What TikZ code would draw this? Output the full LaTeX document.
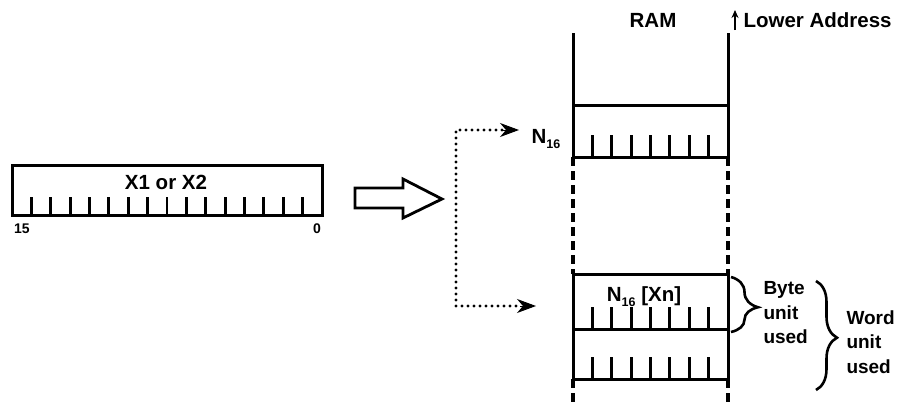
\documentclass[tikz,border=0pt]{standalone}
\usepackage{fontspec}
\setmainfont{Liberation Sans}
\usetikzlibrary{arrows.meta,decorations.pathreplacing,calc}
\newcommand\lowsub[1]{\raisebox{-0.45ex}{\fontsize{12.5}{12}\selectfont #1}}
\begin{document}
\begin{tikzpicture}[x=1pt,y=-1pt,line width=3pt,
  lbl/.style={font=\fontsize{20.5}{22}\selectfont\bfseries, inner sep=0pt},
  sidelbl/.style={font=\fontsize{19}{24.5}\selectfont\bfseries, inner sep=0pt, anchor=west, align=left},
  smalllbl/.style={font=\fontsize{14}{16}\selectfont\bfseries, inner sep=0pt},
  cell/.style={draw, line width=3pt, inner sep=0pt, outer sep=0pt, minimum width=155pt},
  tick/.style={line width=2.8pt},
  dotline/.style={line width=3.4pt, line cap=round, dash pattern=on 0pt off 6pt},
  dashline/.style={line width=3.2pt, dash pattern=on 9pt off 5pt},
  headtip/.style={solid, line width=1pt, -{Stealth[length=19pt,width=14pt,inset=6pt]}},
  bracestyle/.style={decorate, line width=2.6pt}]
\path[use as bounding box] (0,0) rectangle (898,407);

% register
\node[draw, line width=3pt, outer sep=0pt, minimum width=310pt, minimum height=50pt, inner sep=0pt] (reg) at (167,190) {};
\foreach \i in {1,...,15}
  \draw[tick] ($(reg.south west)+(\i*19.375,0)$) -- ++(0,-18);
\node[lbl] (regname) at (166,182) {X1 or X2};
\node[smalllbl] (b15) at (22,229) {15};
\node[smalllbl] (b0) at (317,229) {0};

% hollow arrow
\draw[line width=2.8pt, line join=miter] (355,188) -- (403,188) -- (403,179) -- (442,199) -- (403,218) -- (403,208) -- (355,208) -- cycle;

% RAM
\node[cell, minimum height=52pt] (up) at (650.5,131) {};
\node[cell, minimum height=55pt] (byte) at (650.5,301.5) {};
\node[cell, minimum height=50pt] (low) at (650.5,354) {};
\foreach \b in {up,byte,low}
  \foreach \i in {1,...,7}
    \draw[tick] ($(\b.south west)+(\i*19.375,0)$) -- ++(0,-22);
\coordinate (tl) at (573,33);
\coordinate (tr) at (728,33);
\draw (tl) -- (up.north west);
\draw (tr) -- (up.north east);
\draw[dashline] (up.south west) -- (byte.north west);
\draw[dashline] (up.south east) -- (byte.north east);
\coordinate (bl) at (573,405);
\coordinate (br) at (728,405);
\draw[dashline] (low.south west) -- (bl);
\draw[dashline] (low.south east) -- (br);

\node[lbl] (ram) at (653,20) {RAM};
\coordinate (la1) at (735,30);
\coordinate (la2) at (735,10);
\draw[line width=1.8pt, -{Stealth[length=8pt,width=7pt]}] (la1) -- (la2);
\node[lbl, anchor=west] (lowaddr) at (742,20) {Lower Address};

\node[lbl] (n16) at (546,139) {N\lowsub{16}};
\node[lbl] (n16xn) at (644,297) {N\lowsub{16} [Xn]};

% dotted connectors
\coordinate (ttip) at (519,130);
\coordinate (tbase) at (502,130);
\coordinate (dtop) at (456,130);
\coordinate (dbot) at (456,306);
\coordinate (bbase) at (520,306);
\coordinate (btip) at (536,306);
\draw[dotline] (tbase) -- (dtop) -- (dbot) -- (bbase);
\draw[headtip] (tbase) -- (ttip);
\draw[headtip] (bbase) -- (btip);

% braces
\coordinate (bb1) at (731,277);
\coordinate (bb2) at (731,332);
\draw[bracestyle, decoration={brace, amplitude=27pt, aspect=0.55}] (bb1) -- (bb2);
\node[sidelbl] (bytetxt) at (762,313) {Byte\\unit\\used};
\coordinate (wb1) at (816,281);
\coordinate (wb2) at (816,390);
\draw[bracestyle, decoration={brace, amplitude=21pt, aspect=0.52}] (wb1) -- (wb2);
\node[sidelbl] (wordtxt) at (845,342) {Word\\unit\\used};
\end{tikzpicture}
\end{document}
